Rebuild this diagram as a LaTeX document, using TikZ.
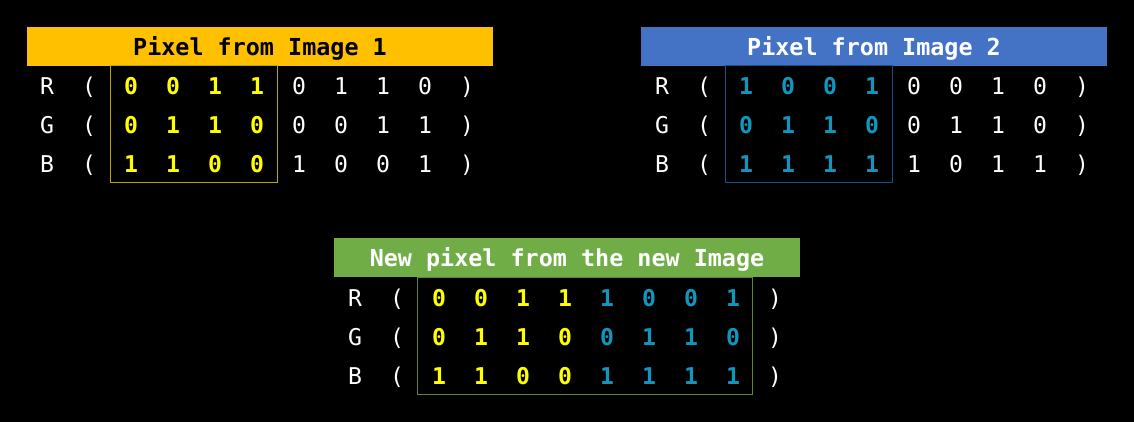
\documentclass[tikz,border=0pt]{standalone}
\usepackage{fontspec}
\setmonofont{DejaVu Sans Mono}
\definecolor{headerone}{RGB}{255,192,0}
\definecolor{headertwo}{RGB}{68,114,196}
\definecolor{headernew}{RGB}{112,173,71}
\definecolor{bitone}{RGB}{255,255,0}
\definecolor{bittwo}{RGB}{18,150,190}
\definecolor{frameone}{RGB}{180,170,0}
\definecolor{frametwo}{RGB}{18,80,140}
\definecolor{framenew}{RGB}{90,135,55}
\tikzset{every node/.style={inner sep=0pt, font=\ttfamily\fontsize{11.55}{13}\selectfont}}
\tikzset{header/.style={minimum width=233pt, minimum height=19.5pt, text depth=0.9pt,
    font=\ttfamily\bfseries\fontsize{11.7}{13}\selectfont}}
\tikzset{cell/.style={anchor=base, text=white}}
\tikzset{bitA/.style={anchor=base, text=bitone, font=\ttfamily\bfseries\fontsize{11.55}{13}\selectfont}}
\tikzset{bitB/.style={anchor=base, text=bittwo, font=\ttfamily\bfseries\fontsize{11.55}{13}\selectfont}}
\tikzset{frame/.style={line width=0.5pt, minimum height=58.5pt}}

\begin{document}
\begin{tikzpicture}[x=0.5pt, y=-0.5pt]
    \fill[black] (0,0) rectangle (1134,422);
    \useasboundingbox (0,0) rectangle (1134,422);

    % pixel from image 1
    \node[header, fill=headerone, text=black] (headA) at (260,46.5) {Pixel from Image 1};
    \node[frame, draw=frameone, minimum width=83.5pt] (boxA) at (193.5,124.5) {};
    \node[cell] (aR) at (47,95) {R};
    \node[cell] (aRo) at (89,95) {(};
    \foreach \b [count=\i] in {0,0,1,1} \node[bitA] (aR\i) at (89+42*\i,95) {\b};
    \foreach \b [count=\i from 5] in {0,1,1,0} \node[cell] (aR\i) at (89+42*\i,95) {\b};
    \node[cell] (aRc) at (467,95) {)};
    \node[cell] (aG) at (47,134) {G};
    \node[cell] (aGo) at (89,134) {(};
    \foreach \b [count=\i] in {0,1,1,0} \node[bitA] (aG\i) at (89+42*\i,134) {\b};
    \foreach \b [count=\i from 5] in {0,0,1,1} \node[cell] (aG\i) at (89+42*\i,134) {\b};
    \node[cell] (aGc) at (467,134) {)};
    \node[cell] (aB) at (47,173) {B};
    \node[cell] (aBo) at (89,173) {(};
    \foreach \b [count=\i] in {1,1,0,0} \node[bitA] (aB\i) at (89+42*\i,173) {\b};
    \foreach \b [count=\i from 5] in {1,0,0,1} \node[cell] (aB\i) at (89+42*\i,173) {\b};
    \node[cell] (aBc) at (467,173) {)};

    % pixel from image 2
    \node[header, fill=headertwo, text=white] (headB) at (874,46.5) {Pixel from Image 2};
    \node[frame, draw=frametwo, minimum width=83.5pt] (boxB) at (808.5,124.5) {};
    \node[cell] (bR) at (662,95) {R};
    \node[cell] (bRo) at (704,95) {(};
    \foreach \b [count=\i] in {1,0,0,1} \node[bitB] (bR\i) at (704+42*\i,95) {\b};
    \foreach \b [count=\i from 5] in {0,0,1,0} \node[cell] (bR\i) at (704+42*\i,95) {\b};
    \node[cell] (bRc) at (1082,95) {)};
    \node[cell] (bG) at (662,134) {G};
    \node[cell] (bGo) at (704,134) {(};
    \foreach \b [count=\i] in {0,1,1,0} \node[bitB] (bG\i) at (704+42*\i,134) {\b};
    \foreach \b [count=\i from 5] in {0,1,1,0} \node[cell] (bG\i) at (704+42*\i,134) {\b};
    \node[cell] (bGc) at (1082,134) {)};
    \node[cell] (bB) at (662,173) {B};
    \node[cell] (bBo) at (704,173) {(};
    \foreach \b [count=\i] in {1,1,1,1} \node[bitB] (bB\i) at (704+42*\i,173) {\b};
    \foreach \b [count=\i from 5] in {1,0,1,1} \node[cell] (bB\i) at (704+42*\i,173) {\b};
    \node[cell] (bBc) at (1082,173) {)};

    % new pixel
    \node[header, fill=headernew, text=white] (headN) at (567,257.5) {New pixel from the new Image};
    \node[frame, draw=framenew, minimum width=167.5pt] (boxN) at (584.5,335.5) {};
    \node[cell] (nR) at (355,306) {R};
    \node[cell] (nRo) at (397,306) {(};
    \foreach \b [count=\i] in {0,0,1,1} \node[bitA] (nR\i) at (397+42*\i,306) {\b};
    \foreach \b [count=\i from 5] in {1,0,0,1} \node[bitB] (nR\i) at (397+42*\i,306) {\b};
    \node[cell] (nRc) at (775,306) {)};
    \node[cell] (nG) at (355,345) {G};
    \node[cell] (nGo) at (397,345) {(};
    \foreach \b [count=\i] in {0,1,1,0} \node[bitA] (nG\i) at (397+42*\i,345) {\b};
    \foreach \b [count=\i from 5] in {0,1,1,0} \node[bitB] (nG\i) at (397+42*\i,345) {\b};
    \node[cell] (nGc) at (775,345) {)};
    \node[cell] (nB) at (355,384) {B};
    \node[cell] (nBo) at (397,384) {(};
    \foreach \b [count=\i] in {1,1,0,0} \node[bitA] (nB\i) at (397+42*\i,384) {\b};
    \foreach \b [count=\i from 5] in {1,1,1,1} \node[bitB] (nB\i) at (397+42*\i,384) {\b};
    \node[cell] (nBc) at (775,384) {)};
\end{tikzpicture}
\end{document}
